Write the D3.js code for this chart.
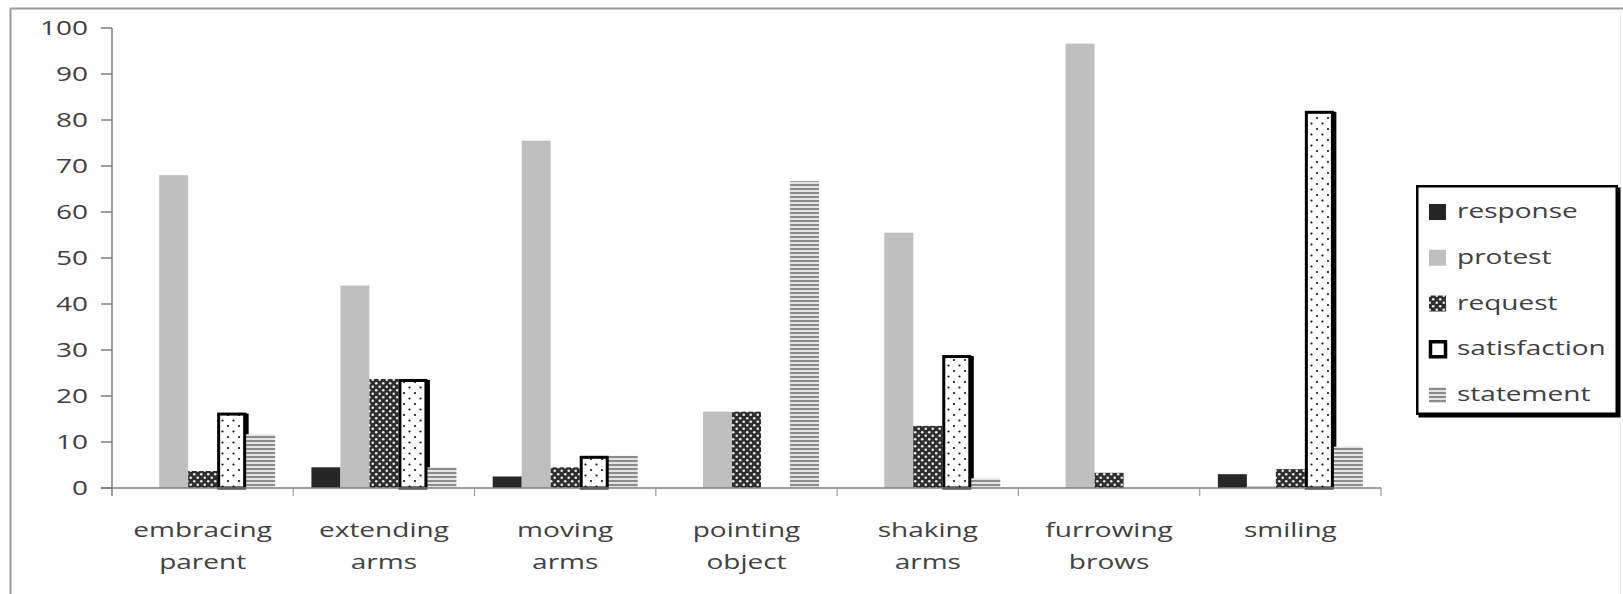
<!DOCTYPE html>
<html>
<head>
<meta charset="utf-8">
<script src="https://cdn.jsdelivr.net/npm/d3@7"></script>
<style>
  html, body { margin: 0; padding: 0; background: #fff; }
  svg { display: block; }
  text { font-family: "Open Sans", sans-serif; fill: #404040; }
</style>
</head>
<body>
<svg id="chart" width="1623" height="594"></svg>
<script>
// Gesture categories (shown on two lines under the axis)
const categories = ["embracing parent", "extending arms", "moving arms", "pointing object",
                    "shaking arms", "furrowing brows", "smiling"];
const seriesNames = ["response", "protest", "request", "satisfaction", "statement"];

// Percentage of each communicative function per gesture
const response     = [0,    4.5,  2.5,  0,    0,    0,    3.0];
const protest      = [68.0, 44.0, 75.5, 16.6, 55.5, 96.6, 0.4];
const request      = [3.7,  23.7, 4.5,  16.6, 13.5, 3.3,  4.1];
const satisfaction = [16.4, 23.7, 7.0,  0,    28.9, 0,    82.0];
const statement    = [11.7, 4.5,  7.0,  66.7, 2.1,  0,    9.0];

const yTicks = [0, 10, 20, 30, 40, 50, 60, 70, 80, 90, 100];

const seriesValues = { response, protest, request, satisfaction, statement };

const svg = d3.select("#chart");
const plot = { left: 112, right: 1381, top: 28, bottom: 488 };
const STRETCH = 1.4;   // horizontally widened lettering
const FONT = 20;

// ---- patterns ----
const defs = svg.append("defs");

const pReq = defs.append("pattern").attr("id", "pat-request")
  .attr("patternUnits", "userSpaceOnUse").attr("width", 7).attr("height", 7);
pReq.append("rect").attr("width", 7).attr("height", 7).attr("fill", "#2e2e2e");
pReq.append("circle").attr("cx", 1.75).attr("cy", 1.75).attr("r", 1.3).attr("fill", "#e8e8e8");
pReq.append("circle").attr("cx", 5.25).attr("cy", 5.25).attr("r", 1.3).attr("fill", "#e8e8e8");

const pSat = defs.append("pattern").attr("id", "pat-satisfaction")
  .attr("patternUnits", "userSpaceOnUse").attr("width", 11).attr("height", 11);
pSat.append("rect").attr("width", 11).attr("height", 11).attr("fill", "#fff");
pSat.append("circle").attr("cx", 2.5).attr("cy", 2.5).attr("r", 1.1).attr("fill", "#111");
pSat.append("circle").attr("cx", 8).attr("cy", 8).attr("r", 1.1).attr("fill", "#111");

const pSt = defs.append("pattern").attr("id", "pat-statement")
  .attr("patternUnits", "userSpaceOnUse").attr("width", 4).attr("height", 4);
pSt.append("rect").attr("width", 4).attr("height", 4).attr("fill", "#e4e4e4");
pSt.append("rect").attr("y", 0).attr("width", 4).attr("height", 2).attr("fill", "#8c8c8c");

const fills = {
  response: "#262626",
  protest: "#bfbfbf",
  request: "url(#pat-request)",
  satisfaction: "url(#pat-satisfaction)",
  statement: "url(#pat-statement)"
};

// ---- outer frame ----
svg.append("line").attr("x1", 10.5).attr("x2", 10.5).attr("y1", 8).attr("y2", 594)
  .attr("stroke", "#9a9a9a").attr("stroke-width", 2);
svg.append("line").attr("x1", 10).attr("x2", 1623).attr("y1", 8.5).attr("y2", 8.5)
  .attr("stroke", "#9a9a9a").attr("stroke-width", 2);
svg.append("line").attr("x1", 1620.5).attr("x2", 1620.5).attr("y1", 9).attr("y2", 594)
  .attr("stroke", "#eeeeee").attr("stroke-width", 1);

// ---- scales ----
const x0 = d3.scaleBand().domain(categories).range([plot.left, plot.right]).padding(0);
const x1 = d3.scaleBand().domain(seriesNames).range([0, x0.bandwidth()])
  .paddingInner(0).paddingOuter(0.625);
const y = d3.scaleLinear().domain([0, 100]).range([plot.bottom, plot.top]);

function stretchedText(parent, x, yy, str, anchor, size) {
  const g = parent.append("g").attr("transform", `translate(${x},${yy}) scale(${STRETCH},1)`);
  g.append("text").attr("text-anchor", anchor).attr("font-size", size || FONT).text(str);
  return g;
}

// ---- y axis ----
const yAxisG = svg.append("g");
yAxisG.append("line").attr("x1", plot.left).attr("x2", plot.left)
  .attr("y1", y(100)).attr("y2", plot.bottom + 8)
  .attr("stroke", "#7f7f7f").attr("stroke-width", 1.5);
yTicks.forEach(t => {
  yAxisG.append("line").attr("x1", plot.left - 11).attr("x2", plot.left)
    .attr("y1", y(t)).attr("y2", y(t)).attr("stroke", "#7f7f7f").attr("stroke-width", 1.5);
  stretchedText(yAxisG, 88, y(t) + 7, String(t), "end");
});

// ---- bars ----
const barsG = svg.append("g");
seriesNames.forEach(name => {
  const vals = seriesValues[name];
  const data = categories.map((c, i) => ({ c, v: vals[i] })).filter(d => d.v > 0);
  const w = x1.bandwidth();
  if (name === "satisfaction") {
    // dark drop shadow on the right, then the outlined dotted bar
    barsG.selectAll(null).data(data).join("rect")
      .attr("x", d => x0(d.c) + x1(name) + 2.5)
      .attr("y", d => y(d.v) + 1)
      .attr("width", w)
      .attr("height", d => y(0) - y(d.v) - 1)
      .attr("fill", "#000");
    barsG.selectAll(null).data(data).join("rect")
      .attr("x", d => x0(d.c) + x1(name) + 1.5)
      .attr("y", d => y(d.v) + 1.5)
      .attr("width", w - 3)
      .attr("height", d => y(0) - y(d.v) - 1.5)
      .attr("fill", fills[name])
      .attr("stroke", "#000").attr("stroke-width", 3);
  } else {
    barsG.selectAll(null).data(data).join("rect")
      .attr("x", d => x0(d.c) + x1(name))
      .attr("y", d => y(d.v))
      .attr("width", w)
      .attr("height", d => y(0) - y(d.v))
      .attr("fill", fills[name]);
  }
});

// ---- x axis ----
const xAxisG = svg.append("g");
xAxisG.append("line").attr("x1", plot.left - 11).attr("x2", plot.right)
  .attr("y1", plot.bottom).attr("y2", plot.bottom)
  .attr("stroke", "#7f7f7f").attr("stroke-width", 1.5);
categories.forEach((c, i) => {
  const bx = x0(c) + x0.bandwidth();
  xAxisG.append("line").attr("x1", bx).attr("x2", bx)
    .attr("y1", plot.bottom).attr("y2", plot.bottom + 8)
    .attr("stroke", "#9a9a9a").attr("stroke-width", 1.2);
  const cx = x0(c) + x0.bandwidth() / 2;
  const lines = c.split(" ");
  lines.forEach((ln, k) => stretchedText(xAxisG, cx, 537 + k * 32, ln, "middle"));
});

// ---- legend ----
const lg = svg.append("g");
const box = { x: 1416, y: 185, w: 202, h: 230 };
lg.append("rect").attr("x", box.x + 2.5).attr("y", box.y + 2.5)
  .attr("width", box.w).attr("height", box.h).attr("fill", "#000");
lg.append("rect").attr("x", box.x + 1.25).attr("y", box.y + 1.25)
  .attr("width", box.w - 2.5).attr("height", box.h - 2.5)
  .attr("fill", "#fff").attr("stroke", "#000").attr("stroke-width", 2.5);

const rowY = d3.scalePoint().domain(seriesNames).range([212, 395]);
seriesNames.forEach(name => {
  const cy = rowY(name);
  if (name === "satisfaction") {
    lg.append("rect").attr("x", 1430.5).attr("y", cy - 7.5).attr("width", 15).attr("height", 15)
      .attr("fill", "#fff").attr("stroke", "#000").attr("stroke-width", 3.5);
  } else {
    lg.append("rect").attr("x", 1429).attr("y", cy - 8).attr("width", 17).attr("height", 16)
      .attr("fill", fills[name]);
  }
  stretchedText(lg, 1457, cy + 6, name, "start");
});
</script>
</body>
</html>
